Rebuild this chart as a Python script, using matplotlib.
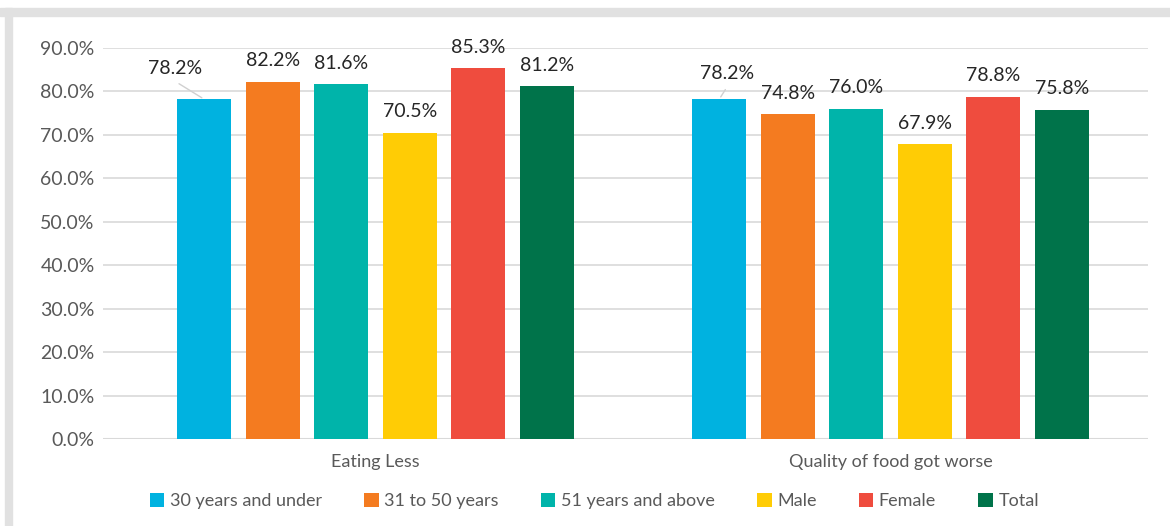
import numpy as np
import matplotlib.pyplot as plt
from matplotlib.patches import Rectangle

plt.rcParams['font.family'] = ['Lato', 'DejaVu Sans']

categories = ["Eating Less", "Quality of food got worse"]
series = ["30 years and under", "31 to 50 years", "51 years and above", "Male", "Female", "Total"]
values = {
    "30 years and under": [78.2, 78.2],
    "31 to 50 years": [82.2, 74.8],
    "51 years and above": [81.6, 76.0],
    "Male": [70.5, 67.9],
    "Female": [85.3, 78.8],
    "Total": [81.2, 75.8],
}
colors = ["#00B2E0", "#F47B20", "#00B4AA", "#FFCC05", "#EF4C3E", "#00734A"]
yticks = np.arange(0, 91, 10)

# label offsets in pixels (dx, dy above bar top); default is centered ~21px above
label_offsets = {(0, 0): (-29, 31), (0, 1): (8, 26)}

DPI = 100
fig = plt.figure(figsize=(11.7, 5.26), dpi=DPI)
ax = fig.add_axes([103 / 1170, 1 - 439 / 526, (1148 - 103) / 1170, (439 - 48) / 526])

# light gray frame (top and left bands)
fig.patches.append(Rectangle((0, 1 - 16 / 526), 1, 8 / 526, transform=fig.transFigure,
                             color="#e1e1e1", zorder=0))
fig.patches.append(Rectangle((5 / 1170, 0), 7 / 1170, 1 - 8 / 526, transform=fig.transFigure,
                             color="#e1e1e1", zorder=0))

x = np.arange(len(categories))
width = 0.105
step = 0.133
px2pt = 72 / DPI

for i, (name, col) in enumerate(zip(series, colors)):
    pos = x + (i - (len(series) - 1) / 2) * step
    vals = values[name]
    ax.bar(pos, vals, width, color=col, label=name, zorder=3)
    for j, (p, v) in enumerate(zip(pos, vals)):
        dx, dy = label_offsets.get((i, j), (0, 21))
        ax.annotate(f"{v:.1f}%", xy=(p, v), xytext=(dx * px2pt, dy * px2pt),
                    textcoords="offset points", ha="center", va="center",
                    fontsize=14, color="#262626", zorder=4)
        if (i, j) in label_offsets:
            ax.annotate("", xy=(p, v), xytext=(dx * px2pt * 0.95, (dy - 14) * px2pt),
                        textcoords="offset points",
                        arrowprops=dict(arrowstyle="-", color="#d0d0d0", lw=1), zorder=4)

ax.set_xlim(-0.529, 1.5)
ax.set_ylim(0, 90)
ax.set_yticks(yticks)
ax.set_yticklabels([f"{t:.1f}%" for t in yticks], fontsize=14, color="#595959")
ax.set_xticks(x)
ax.set_xticklabels(categories, fontsize=13, color="#595959")
ax.tick_params(axis="both", length=0)
ax.tick_params(axis="x", pad=11)
ax.tick_params(axis="y", pad=6)
ax.grid(axis="y", color="#d9d9d9", lw=1.2, zorder=0)
for s in ax.spines.values():
    s.set_visible(False)
ax.axhline(0, color="#d9d9d9", lw=1.5, zorder=2)

leg = fig.legend(loc="center", bbox_to_anchor=(0.508, 1 - 501 / 526), ncol=6, frameon=False,
                 fontsize=13, handlelength=0.8, handleheight=0.8, handletextpad=0.3,
                 columnspacing=2.35)
for t in leg.get_texts():
    t.set_color("#595959")

fig.savefig("out.png", dpi=DPI)
